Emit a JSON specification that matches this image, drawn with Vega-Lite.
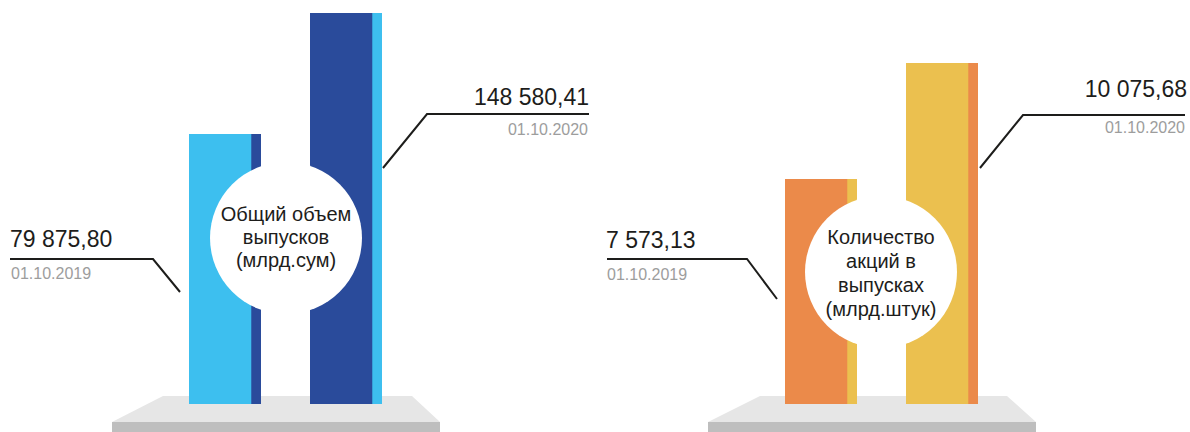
{
  "$schema": "https://vega.github.io/schema/vega-lite/v6.json",
  "background": "white",
  "padding": 0,
  "spacing": 0,
  "config": {
    "view": {"stroke": null},
    "font": "Liberation Sans",
    "locale": {"number": {"decimal": ",", "thousands": " ", "grouping": [3], "currency": ["", ""]}}
  },
  "datasets": {
    "issue": [
      {"date": "01.10.2019", "value": 79875.80},
      {"date": "01.10.2020", "value": 148580.41}
    ],
    "shares": [
      {"date": "01.10.2019", "value": 7573.13},
      {"date": "01.10.2020", "value": 10075.68}
    ]
  },
  "hconcat": [
    {
      "width": 595,
      "height": 432,
      "resolve": {"scale": {"x": "independent", "y": "independent", "color": "independent"}},
      "layer": [
        {
          "data": {"values": [{"gx": 112, "gy": 422}, {"gx": 163, "gy": 396}, {"gx": 412, "gy": 396}, {"gx": 440, "gy": 422}]},
          "mark": {"type": "area", "color": "#E6E6E6", "opacity": 1},
          "encoding": {
            "x": {"field": "gx", "type": "quantitative", "scale": {"domain": [0, 595], "nice": false, "zero": false}, "axis": null},
            "y": {"field": "gy", "type": "quantitative", "scale": {"domain": [0, 432], "reverse": true, "nice": false, "zero": false}, "axis": null},
            "y2": {"datum": 422}
          }
        },
        {
          "data": {"values": [{"part": "front"}]},
          "mark": {"type": "rect", "color": "#BEBEBE"},
          "encoding": {
            "x": {"datum": 112, "type": "quantitative", "scale": {"domain": [0, 595], "nice": false, "zero": false}, "axis": null},
            "x2": {"datum": 440},
            "y": {"datum": 422, "type": "quantitative", "scale": {"domain": [0, 432], "reverse": true, "nice": false, "zero": false}, "axis": null},
            "y2": {"datum": 432}
          }
        },
        {
          "data": {"name": "issue"},
          "mark": {"type": "bar"},
          "encoding": {
            "x": {"field": "date", "type": "nominal", "scale": {"type": "band", "domain": ["01.10.2019", "01.10.2020"], "range": [189, 382], "paddingInner": 0.405, "paddingOuter": 0, "round": false}, "axis": null},
            "y": {"field": "value", "type": "quantitative", "scale": {"domain": [-73435, 148580.41], "range": [404, 13], "nice": false, "zero": false}, "axis": null},
            "y2": {"datum": -73435},
            "color": {"field": "date", "type": "nominal", "scale": {"domain": ["01.10.2019", "01.10.2020"], "range": ["#2A4B9B", "#3DBFEF"]}, "legend": null}
          }
        },
        {
          "data": {"name": "issue"},
          "mark": {"type": "bar", "width": {"band": 0.865}, "xOffset": -4.86},
          "encoding": {
            "x": {"field": "date", "type": "nominal", "scale": {"type": "band", "domain": ["01.10.2019", "01.10.2020"], "range": [189, 382], "paddingInner": 0.405, "paddingOuter": 0, "round": false}, "axis": null},
            "y": {"field": "value", "type": "quantitative", "scale": {"domain": [-73435, 148580.41], "range": [404, 13], "nice": false, "zero": false}, "axis": null},
            "y2": {"datum": -73435},
            "color": {"field": "date", "type": "nominal", "scale": {"domain": ["01.10.2019", "01.10.2020"], "range": ["#3DBFEF", "#2A4B9B"]}, "legend": null}
          }
        },
        {
          "data": {"values": [{"title": "Общий объем\nвыпусков\n(млрд.сум)"}]},
          "mark": {"type": "point", "shape": "circle", "filled": true, "color": "#FFFFFF", "opacity": 1, "size": 23104, "strokeWidth": 0},
          "encoding": {
            "x": {"datum": 286, "type": "quantitative", "scale": {"domain": [0, 595], "nice": false, "zero": false}, "axis": null},
            "y": {"datum": 238, "type": "quantitative", "scale": {"domain": [0, 432], "reverse": true, "nice": false, "zero": false}, "axis": null}
          }
        },
        {
          "data": {"values": [{"title": "Общий объем\nвыпусков\n(млрд.сум)"}]},
          "mark": {"type": "text", "lineBreak": "\n", "lineHeight": 23, "fontSize": 20, "color": "#1d1d1b", "align": "center", "baseline": "middle"},
          "encoding": {
            "x": {"datum": 286, "type": "quantitative", "scale": {"domain": [0, 595], "nice": false, "zero": false}, "axis": null},
            "y": {"datum": 215, "type": "quantitative", "scale": {"domain": [0, 432], "reverse": true, "nice": false, "zero": false}, "axis": null},
            "text": {"field": "title"}
          }
        },
        {
          "data": {"values": [
            {"date": "01.10.2019", "gx": 10, "gy": 259}, {"date": "01.10.2019", "gx": 153, "gy": 259}, {"date": "01.10.2019", "gx": 180, "gy": 292},
            {"date": "01.10.2020", "gx": 383, "gy": 168}, {"date": "01.10.2020", "gx": 427, "gy": 114}, {"date": "01.10.2020", "gx": 589, "gy": 114}
          ]},
          "mark": {"type": "line", "color": "#1d1d1b", "strokeWidth": 2},
          "encoding": {
            "x": {"field": "gx", "type": "quantitative", "scale": {"domain": [0, 595], "nice": false, "zero": false}, "axis": null},
            "y": {"field": "gy", "type": "quantitative", "scale": {"domain": [0, 432], "reverse": true, "nice": false, "zero": false}, "axis": null},
            "detail": {"field": "date"}
          }
        },
        {
          "data": {"name": "issue"},
          "transform": [{"filter": "datum.date === '01.10.2019'"}],
          "mark": {"type": "text", "fontSize": 23, "color": "#1d1d1b", "align": "left", "baseline": "alphabetic"},
          "encoding": {
            "x": {"datum": 10, "type": "quantitative", "scale": {"domain": [0, 595], "nice": false, "zero": false}, "axis": null},
            "y": {"datum": 247, "type": "quantitative", "scale": {"domain": [0, 432], "reverse": true, "nice": false, "zero": false}, "axis": null},
            "text": {"field": "value", "type": "quantitative", "format": ",.2f"}
          }
        },
        {
          "data": {"name": "issue"},
          "transform": [{"filter": "datum.date === '01.10.2019'"}],
          "mark": {"type": "text", "fontSize": 16, "color": "#9d9d9d", "align": "left", "baseline": "alphabetic"},
          "encoding": {
            "x": {"datum": 11, "type": "quantitative", "scale": {"domain": [0, 595], "nice": false, "zero": false}, "axis": null},
            "y": {"datum": 279, "type": "quantitative", "scale": {"domain": [0, 432], "reverse": true, "nice": false, "zero": false}, "axis": null},
            "text": {"field": "date"}
          }
        },
        {
          "data": {"name": "issue"},
          "transform": [{"filter": "datum.date === '01.10.2020'"}],
          "mark": {"type": "text", "fontSize": 23, "color": "#1d1d1b", "align": "right", "baseline": "alphabetic"},
          "encoding": {
            "x": {"datum": 589, "type": "quantitative", "scale": {"domain": [0, 595], "nice": false, "zero": false}, "axis": null},
            "y": {"datum": 105, "type": "quantitative", "scale": {"domain": [0, 432], "reverse": true, "nice": false, "zero": false}, "axis": null},
            "text": {"field": "value", "type": "quantitative", "format": ",.2f"}
          }
        },
        {
          "data": {"name": "issue"},
          "transform": [{"filter": "datum.date === '01.10.2020'"}],
          "mark": {"type": "text", "fontSize": 16, "color": "#9d9d9d", "align": "right", "baseline": "alphabetic"},
          "encoding": {
            "x": {"datum": 588, "type": "quantitative", "scale": {"domain": [0, 595], "nice": false, "zero": false}, "axis": null},
            "y": {"datum": 135, "type": "quantitative", "scale": {"domain": [0, 432], "reverse": true, "nice": false, "zero": false}, "axis": null},
            "text": {"field": "date"}
          }
        }
      ]
    },
    {
      "width": 595,
      "height": 432,
      "resolve": {"scale": {"x": "independent", "y": "independent", "color": "independent"}},
      "layer": [
        {
          "data": {"values": [{"gx": 113, "gy": 422}, {"gx": 165, "gy": 396}, {"gx": 412, "gy": 396}, {"gx": 441, "gy": 422}]},
          "mark": {"type": "area", "color": "#E6E6E6", "opacity": 1},
          "encoding": {
            "x": {"field": "gx", "type": "quantitative", "scale": {"domain": [0, 595], "nice": false, "zero": false}, "axis": null},
            "y": {"field": "gy", "type": "quantitative", "scale": {"domain": [0, 432], "reverse": true, "nice": false, "zero": false}, "axis": null},
            "y2": {"datum": 422}
          }
        },
        {
          "data": {"values": [{"part": "front"}]},
          "mark": {"type": "rect", "color": "#BEBEBE"},
          "encoding": {
            "x": {"datum": 113, "type": "quantitative", "scale": {"domain": [0, 595], "nice": false, "zero": false}, "axis": null},
            "x2": {"datum": 441},
            "y": {"datum": 422, "type": "quantitative", "scale": {"domain": [0, 432], "reverse": true, "nice": false, "zero": false}, "axis": null},
            "y2": {"datum": 432}
          }
        },
        {
          "data": {"name": "shares"},
          "mark": {"type": "bar"},
          "encoding": {
            "x": {"field": "date", "type": "nominal", "scale": {"type": "band", "domain": ["01.10.2019", "01.10.2020"], "range": [190, 383], "paddingInner": 0.405, "paddingOuter": 0, "round": false}, "axis": null},
            "y": {"field": "value", "type": "quantitative", "scale": {"domain": [2719.2, 10075.68], "range": [404, 63], "nice": false, "zero": false}, "axis": null},
            "y2": {"datum": 2719.2},
            "color": {"field": "date", "type": "nominal", "scale": {"domain": ["01.10.2019", "01.10.2020"], "range": ["#EBC04F", "#EB8A4A"]}, "legend": null}
          }
        },
        {
          "data": {"name": "shares"},
          "mark": {"type": "bar", "width": {"band": 0.865}, "xOffset": -4.86},
          "encoding": {
            "x": {"field": "date", "type": "nominal", "scale": {"type": "band", "domain": ["01.10.2019", "01.10.2020"], "range": [190, 383], "paddingInner": 0.405, "paddingOuter": 0, "round": false}, "axis": null},
            "y": {"field": "value", "type": "quantitative", "scale": {"domain": [2719.2, 10075.68], "range": [404, 63], "nice": false, "zero": false}, "axis": null},
            "y2": {"datum": 2719.2},
            "color": {"field": "date", "type": "nominal", "scale": {"domain": ["01.10.2019", "01.10.2020"], "range": ["#EB8A4A", "#EBC04F"]}, "legend": null}
          }
        },
        {
          "data": {"values": [{"title": "Количество\nакций в\nвыпусках\n(млрд.штук)"}]},
          "mark": {"type": "point", "shape": "circle", "filled": true, "color": "#FFFFFF", "opacity": 1, "size": 23104, "strokeWidth": 0},
          "encoding": {
            "x": {"datum": 286, "type": "quantitative", "scale": {"domain": [0, 595], "nice": false, "zero": false}, "axis": null},
            "y": {"datum": 272, "type": "quantitative", "scale": {"domain": [0, 432], "reverse": true, "nice": false, "zero": false}, "axis": null}
          }
        },
        {
          "data": {"values": [{"title": "Количество\nакций в\nвыпусках\n(млрд.штук)"}]},
          "mark": {"type": "text", "lineBreak": "\n", "lineHeight": 24, "fontSize": 20, "color": "#1d1d1b", "align": "center", "baseline": "middle"},
          "encoding": {
            "x": {"datum": 286, "type": "quantitative", "scale": {"domain": [0, 595], "nice": false, "zero": false}, "axis": null},
            "y": {"datum": 238, "type": "quantitative", "scale": {"domain": [0, 432], "reverse": true, "nice": false, "zero": false}, "axis": null},
            "text": {"field": "title"}
          }
        },
        {
          "data": {"values": [
            {"date": "01.10.2019", "gx": 12, "gy": 259}, {"date": "01.10.2019", "gx": 152, "gy": 259}, {"date": "01.10.2019", "gx": 182, "gy": 299},
            {"date": "01.10.2020", "gx": 385, "gy": 168}, {"date": "01.10.2020", "gx": 428, "gy": 115}, {"date": "01.10.2020", "gx": 590, "gy": 115}
          ]},
          "mark": {"type": "line", "color": "#1d1d1b", "strokeWidth": 2},
          "encoding": {
            "x": {"field": "gx", "type": "quantitative", "scale": {"domain": [0, 595], "nice": false, "zero": false}, "axis": null},
            "y": {"field": "gy", "type": "quantitative", "scale": {"domain": [0, 432], "reverse": true, "nice": false, "zero": false}, "axis": null},
            "detail": {"field": "date"}
          }
        },
        {
          "data": {"name": "shares"},
          "transform": [{"filter": "datum.date === '01.10.2019'"}],
          "mark": {"type": "text", "fontSize": 23, "color": "#1d1d1b", "align": "left", "baseline": "alphabetic"},
          "encoding": {
            "x": {"datum": 11, "type": "quantitative", "scale": {"domain": [0, 595], "nice": false, "zero": false}, "axis": null},
            "y": {"datum": 248, "type": "quantitative", "scale": {"domain": [0, 432], "reverse": true, "nice": false, "zero": false}, "axis": null},
            "text": {"field": "value", "type": "quantitative", "format": ",.2f"}
          }
        },
        {
          "data": {"name": "shares"},
          "transform": [{"filter": "datum.date === '01.10.2019'"}],
          "mark": {"type": "text", "fontSize": 16, "color": "#9d9d9d", "align": "left", "baseline": "alphabetic"},
          "encoding": {
            "x": {"datum": 12, "type": "quantitative", "scale": {"domain": [0, 595], "nice": false, "zero": false}, "axis": null},
            "y": {"datum": 280, "type": "quantitative", "scale": {"domain": [0, 432], "reverse": true, "nice": false, "zero": false}, "axis": null},
            "text": {"field": "date"}
          }
        },
        {
          "data": {"name": "shares"},
          "transform": [{"filter": "datum.date === '01.10.2020'"}],
          "mark": {"type": "text", "fontSize": 23, "color": "#1d1d1b", "align": "right", "baseline": "alphabetic"},
          "encoding": {
            "x": {"datum": 592, "type": "quantitative", "scale": {"domain": [0, 595], "nice": false, "zero": false}, "axis": null},
            "y": {"datum": 97, "type": "quantitative", "scale": {"domain": [0, 432], "reverse": true, "nice": false, "zero": false}, "axis": null},
            "text": {"field": "value", "type": "quantitative", "format": ",.2f"}
          }
        },
        {
          "data": {"name": "shares"},
          "transform": [{"filter": "datum.date === '01.10.2020'"}],
          "mark": {"type": "text", "fontSize": 16, "color": "#9d9d9d", "align": "right", "baseline": "alphabetic"},
          "encoding": {
            "x": {"datum": 590, "type": "quantitative", "scale": {"domain": [0, 595], "nice": false, "zero": false}, "axis": null},
            "y": {"datum": 133, "type": "quantitative", "scale": {"domain": [0, 432], "reverse": true, "nice": false, "zero": false}, "axis": null},
            "text": {"field": "date"}
          }
        }
      ]
    }
  ]
}
